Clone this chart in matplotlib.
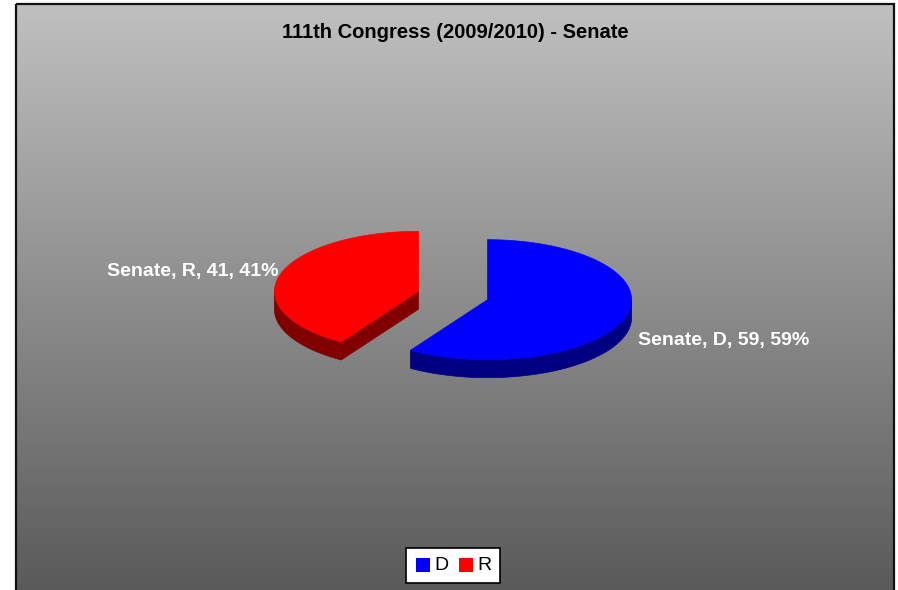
import numpy as np
import matplotlib.pyplot as plt
from matplotlib.patches import Polygon, Rectangle

plt.rcParams['font.family'] = ['Liberation Sans', 'DejaVu Sans']

# Senate seats, 111th Congress
series_name = "Senate"
parties = ["D", "R"]
seats = [59, 41]
top_colors = ["#0000FF", "#FF0000"]
side_colors = ["#000080", "#800000"]

W, H = 898, 590
fig = plt.figure(figsize=(W / 100, H / 100), dpi=100)
ax = fig.add_axes([0, 0, 1, 1])
ax.set_xlim(0, W)
ax.set_ylim(H, 0)
ax.axis("off")

# chart area with vertical grey gradient
x0, x1, y0, y1 = 16, 894, 4, 592
grad = np.linspace(192, 90, 256)[:, None] / 255.0
ax.imshow(np.dstack([grad, grad, grad]), extent=(x0, x1, y1, y0),
          aspect="auto", zorder=0, interpolation="bicubic")
ax.add_patch(Rectangle((x0, y0), x1 - x0, y1 - y0, fill=False,
                       edgecolor="#111111", lw=1.6, zorder=1))

ax.text((x0 + x1) / 2, 33, "111th Congress (2009/2010) - Senate",
        ha="center", va="center", fontsize=14.5, fontweight="bold", color="black")

# 3-D pie: ellipse geometry in pixel units
cx, cy = 453, 295.5
rx, ry, depth = 144, 60, 18
explode = 0.25

total = sum(seats)
start = 90.0
slices = []
for i, v in enumerate(seats):
    sweep = 360.0 * v / total
    a_end = start
    a_start = start - sweep          # clockwise from 12 o'clock
    mid = np.radians((a_start + a_end) / 2)
    ox = cx + explode * rx * np.cos(mid)
    oy = cy - explode * ry * np.sin(mid)
    slices.append((i, v, a_start, a_end, mid, ox, oy))
    start = a_start


def ell(ox, oy, ang, dz=0.0):
    return ox + rx * np.cos(ang), oy - ry * np.sin(ang) + dz


for i, v, a0, a1, mid, ox, oy in slices:
    ang = np.radians(np.linspace(a0, a1, 200))
    # visible radial cut faces
    for a, nrm in ((np.radians(a0), np.radians(a0) - np.pi / 2),
                   (np.radians(a1), np.radians(a1) + np.pi / 2)):
        if np.sin(nrm) < -1e-6:
            ex, ey = ell(ox, oy, a)
            face = [(ox, oy), (ex, ey), (ex, ey + depth), (ox, oy + depth)]
            ax.add_patch(Polygon(face, closed=True, facecolor=side_colors[i],
                                 edgecolor=side_colors[i], lw=0.5, zorder=2))
    # front outer wall
    front = ang[np.sin(ang) <= 0.02]
    if len(front) > 1:
        xs, ys = ell(ox, oy, front)
        wall = list(zip(xs, ys)) + list(zip(xs[::-1], ys[::-1] + depth))
        ax.add_patch(Polygon(wall, closed=True, facecolor=side_colors[i],
                             edgecolor=side_colors[i], lw=0.5, zorder=2))
    # top face
    xs, ys = ell(ox, oy, ang)
    top = [(ox, oy)] + list(zip(xs, ys))
    ax.add_patch(Polygon(top, closed=True, facecolor=top_colors[i],
                         edgecolor=top_colors[i], lw=0.5, zorder=3))

    # data label
    pct = round(100 * v / total)
    px, py = ell(ox, oy, mid)
    right = np.cos(mid) > 0
    if np.sin(mid) < 0:
        py += depth + 9
    ax.text(px + (12 if right else -2), py - 3,
            f"{series_name}, {parties[i]}, {v}, {pct}%",
            ha="left" if right else "right", va="center",
            fontsize=14, fontweight="bold", color="white", zorder=4)

# legend box
lx, ly, lw_, lh = 406, 548, 94, 35
ax.add_patch(Rectangle((lx, ly), lw_, lh, facecolor="white",
                       edgecolor="black", lw=1.2, zorder=4))
kx = lx + 10
for i, p in enumerate(parties):
    ax.add_patch(Rectangle((kx, ly + 10), 14, 14, facecolor=top_colors[i],
                           edgecolor="none", zorder=5))
    ax.text(kx + 18, ly + lh / 2 + 0.5, p, ha="left", va="center",
            fontsize=14, color="black", zorder=5)
    kx += 43

fig.savefig("out.png", dpi=100)
